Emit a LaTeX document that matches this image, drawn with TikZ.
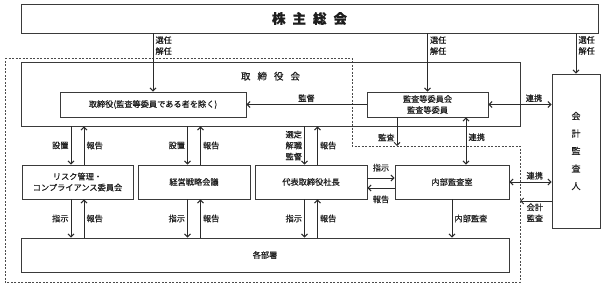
\documentclass[tikz,border=0pt]{standalone}
\usepackage{fontspec}
\setmainfont{Noto Sans CJK JP}[FakeBold=0.6]
\usepackage{tikz}
\usetikzlibrary{
  arrows.meta,
  positioning,
  calc
}
\definecolor{boxline}{HTML}{3A3A3A}
\definecolor{arrowline}{HTML}{2A2A2A}
\definecolor{dashgrey}{HTML}{4A4A4A}
\definecolor{textgrey}{HTML}{1E1E1E}
\tikzset{
  orgbox/.style={
    rectangle, draw=boxline, line width=0.8pt, inner sep=0pt,
    align=center, font=\fontsize{8.2}{11}\selectfont, text=textgrey
  },
  arrowstyle/.style={
    -{Straight Barb[length=3pt,width=6pt]}, line width=1pt, color=arrowline
  },
  twoway/.style={
    {Straight Barb[length=3pt,width=6pt]}-{Straight Barb[length=3pt,width=6pt]},
    line width=1pt, color=arrowline
  },
  annot/.style={
    font=\fontsize{8.2}{11}\selectfont, text=textgrey, align=left, inner sep=2pt
  },
  groupline/.style={
    draw=dashgrey, line width=0.8pt, dash pattern=on 2pt off 1.5pt
  },
}

\begin{document}
\begin{tikzpicture}[x=1pt, y=-1pt]

  \useasboundingbox (0,0) rectangle (605,287);

  %% -- Group outline ---------------------------------------------------------
  \coordinate (notch)   at (352,146);
  \coordinate (gcorner) at (520,146);
  \draw[groupline] (5,58) -- (352,58) -- (notch) -- (gcorner) -- (520,282) -- (5,282) -- cycle;

  %% -- Top ---------------------------------------------------------------------
  \node[orgbox, minimum width=577pt, minimum height=29pt,
        font=\fontsize{13.5}{16}\selectfont\bfseries] (agm) at (309.5,18.5)
        {株\hspace{7pt}主\hspace{7pt}総\hspace{7pt}会};

  %% -- Board -------------------------------------------------------------------
  \node[orgbox, minimum width=499pt, minimum height=64pt] (board) at (270.5,94) {};
  \node[annot, font=\fontsize{9.5}{11}\selectfont, below=8pt of board.north] (boardttl)
        {取\hspace{7pt}締\hspace{7pt}役\hspace{7pt}会};
  \node[orgbox, minimum width=186pt, minimum height=25pt] (dirs) at (153,104.5)
        {取締役(監査等委員である者を除く)};
  \node[orgbox, minimum width=121pt, minimum height=25pt] (ac) at (427.5,104.5)
        {監査等委員会\\監査等委員};

  \node[orgbox, minimum width=48pt, minimum height=154pt,
        font=\fontsize{9}{17.5}\selectfont] (auditor) at (576,151)
        {会\\計\\監\\査\\人};

  %% -- Second row --------------------------------------------------------------
  \node[orgbox, minimum width=111pt, minimum height=34pt] (risk)  at (77.5,182)
        {リスク管理・\\コンプライアンス委員会};
  \node[orgbox, minimum width=112pt, minimum height=34pt] (strat) at (194,182) {経営戦略会議};
  \node[orgbox, minimum width=112pt, minimum height=34pt] (pres)  at (311,182) {代表取締役社長};
  \node[orgbox, minimum width=114pt, minimum height=34pt] (ia)    at (452,182) {内部監査室};

  %% -- Departments -------------------------------------------------------------
  \node[orgbox, minimum width=488pt, minimum height=34pt] (depts) at (265,255) {各部署};

  %% -- Arrows ------------------------------------------------------------------
  % from the shareholders
  \draw[arrowstyle] (agm.south -| dirs.north) -- node[annot, right, pos=0.21]{選任\\解任} (dirs.north);
  \draw[arrowstyle] (agm.south -| ac.north) -- node[annot, right, pos=0.21]{選任\\解任} (ac.north);
  \draw[arrowstyle] (agm.south -| auditor.north) -- node[annot, right, pos=0.3]{選任\\解任} (auditor.north);

  % audit committee
  \draw[arrowstyle] (ac.west) -- node[annot, above]{監督} (dirs.east);
  \draw[twoway] (ac.east) -- node[annot, above, pos=0.72]{連携} (auditor.west |- ac.east);
  \draw[arrowstyle] ([xshift=-30.5pt]ac.south) -- node[annot, left, pos=0.7]{監査} ([xshift=-30.5pt]ac.south |- notch);
  \draw[twoway] ([xshift=38.5pt]ac.south) -- node[annot, right, pos=0.42]{連携} ([xshift=38.5pt]ac.south |- ia.north);

  % board to second row
  \draw[arrowstyle] ([xshift=-6.5pt]board.south -| risk.north) -- node[annot, left]{設置} ([xshift=-6.5pt]risk.north);
  \draw[arrowstyle] ([xshift=6.5pt]risk.north) -- node[annot, right]{報告} ([xshift=6.5pt]board.south -| risk.north);
  \draw[arrowstyle] ([xshift=-6.5pt]board.south -| strat.north) -- node[annot, left]{設置} ([xshift=-6.5pt]strat.north);
  \draw[arrowstyle] ([xshift=6.5pt]strat.north) -- node[annot, right]{報告} ([xshift=6.5pt]board.south -| strat.north);
  \draw[arrowstyle] ([xshift=-6.5pt]board.south -| pres.north) -- node[annot, left]{選定\\解職\\監督} ([xshift=-6.5pt]pres.north);
  \draw[arrowstyle] ([xshift=6.5pt]pres.north) -- node[annot, right]{報告} ([xshift=6.5pt]board.south -| pres.north);

  % second row to departments
  \draw[arrowstyle] ([xshift=-6.5pt]risk.south) -- node[annot, left]{指示} ([xshift=-6.5pt]risk.south |- depts.north);
  \draw[arrowstyle] ([xshift=6.5pt]risk.south |- depts.north) -- node[annot, right]{報告} ([xshift=6.5pt]risk.south);
  \draw[arrowstyle] ([xshift=-6.5pt]strat.south) -- node[annot, left]{指示} ([xshift=-6.5pt]strat.south |- depts.north);
  \draw[arrowstyle] ([xshift=6.5pt]strat.south |- depts.north) -- node[annot, right]{報告} ([xshift=6.5pt]strat.south);
  \draw[arrowstyle] ([xshift=-6.5pt]pres.south) -- node[annot, left]{指示} ([xshift=-6.5pt]pres.south |- depts.north);
  \draw[arrowstyle] ([xshift=6.5pt]pres.south |- depts.north) -- node[annot, right]{報告} ([xshift=6.5pt]pres.south);
  \draw[arrowstyle] (ia.south) -- node[annot, right]{内部監査} (ia.south |- depts.north);

  % president and internal audit
  \draw[arrowstyle] ([yshift=4pt]pres.east) -- node[annot, above=4pt]{指示} ([yshift=4pt]ia.west);
  \draw[arrowstyle] ([yshift=-6pt]ia.west) -- node[annot, below=5pt]{報告} ([yshift=-6pt]pres.east);

  % accounting auditor
  \draw[twoway] (ia.east) -- node[annot, above, pos=0.6]{連携} (auditor.west |- ia.east);
  \draw[arrowstyle] ([yshift=-50pt]auditor.west) -- node[annot, below, pos=0.53]{会計\\監査} ([yshift=-50pt]auditor.west -| gcorner);

\end{tikzpicture}
\end{document}
